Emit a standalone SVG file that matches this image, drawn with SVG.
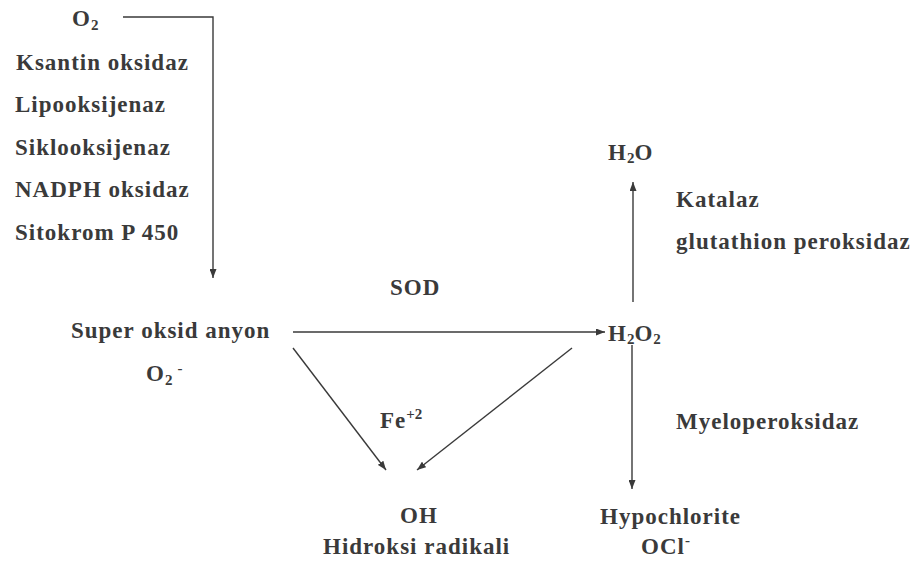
<svg xmlns="http://www.w3.org/2000/svg" width="922" height="567" viewBox="0 0 922 567">
<style>
text{font-family:"Liberation Serif","Times New Roman",serif;font-weight:bold;font-size:23px;letter-spacing:1px;fill:#3a3a3a}
.sub{font-size:15px;letter-spacing:0}
.c{stroke:#3a3a3a;stroke-width:1.4;fill:none}
</style>
<defs>
<marker id="ah" viewBox="0 0 9 7" refX="9" refY="3.5" markerWidth="9" markerHeight="7" markerUnits="userSpaceOnUse" orient="auto">
<path d="M0,0 L9,3.5 L0,7 z" fill="#3a3a3a"/>
</marker>
</defs>
<rect width="922" height="567" fill="#fff"/>
<g id="connectors">
<polyline class="c" points="123,17 213,17 213,278" marker-end="url(#ah)"/>
<line class="c" x1="293" y1="332" x2="605" y2="332" marker-end="url(#ah)"/>
<line class="c" x1="633" y1="302" x2="633" y2="182" marker-end="url(#ah)"/>
<line class="c" x1="632" y1="345" x2="632" y2="489" marker-end="url(#ah)"/>
<line class="c" x1="293" y1="348" x2="386" y2="470" marker-end="url(#ah)"/>
<line class="c" x1="572" y1="348" x2="417" y2="470" marker-end="url(#ah)"/>
</g>
<g id="o2"><text x="72" y="26">O<tspan class="sub" dy="4">2</tspan></text></g>
<g id="enzymes">
<text x="16" y="70">Ksantin oksidaz</text>
<text x="15" y="112">Lipooksijenaz</text>
<text x="15" y="155">Siklooksijenaz</text>
<text x="15" y="197">NADPH oksidaz</text>
<text x="15" y="240">Sitokrom P 450</text>
</g>
<g id="superoxide">
<text x="71" y="338">Super oksid anyon</text>
<text x="146" y="381">O<tspan class="sub" dy="4">2</tspan><tspan class="sub" dy="-12" dx="5">-</tspan></text>
</g>
<g id="sod"><text x="390" y="295">SOD</text></g>
<g id="h2o2"><text x="608" y="341">H<tspan class="sub" dy="3">2</tspan><tspan dy="-3">O</tspan><tspan class="sub" dy="3">2</tspan></text></g>
<g id="h2o"><text x="608" y="160">H<tspan class="sub" dy="3">2</tspan><tspan dy="-3">O</tspan></text></g>
<g id="katalaz">
<text x="676" y="207">Katalaz</text>
<text x="676" y="249">glutathion peroksidaz</text>
</g>
<g id="myelo"><text x="676" y="429">Myeloperoksidaz</text></g>
<g id="fe"><text x="380" y="428">Fe<tspan class="sub" dy="-9">+2</tspan></text></g>
<g id="oh">
<text x="400" y="523">OH</text>
<text x="323" y="554">Hidroksi radikali</text>
</g>
<g id="hypochlorite">
<text x="600" y="524">Hypochlorite</text>
<text x="641" y="554">OCl<tspan class="sub" dy="-9">-</tspan></text>
</g>
</svg>
